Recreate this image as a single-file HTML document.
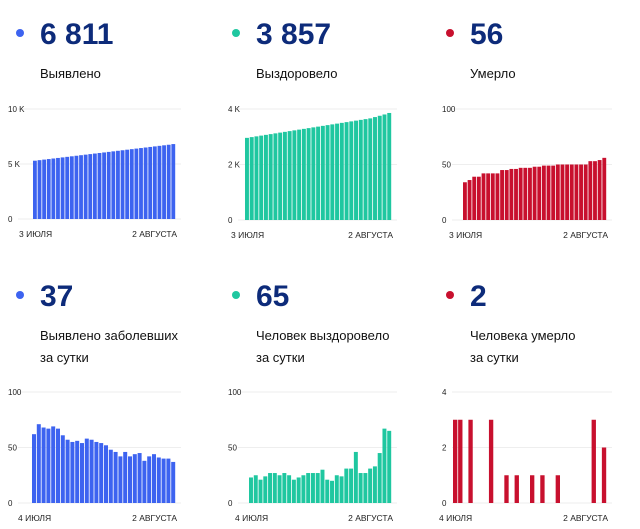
<!DOCTYPE html>
<html><head><meta charset="utf-8"><style>
body{margin:0;width:640px;height:529px;background:#fff;font-family:"Liberation Sans",sans-serif;overflow:hidden}
svg{position:absolute;left:0;top:0}
</style></head><body>
<svg id="s" width="640" height="529" xmlns="http://www.w3.org/2000/svg" font-family="Liberation Sans, sans-serif"></svg>
<script>
const s=document.getElementById('s');let h='';
const B='#3d63f0',G='#1fc7a0',R='#c8102e',N='#0d2b7a';
function head(x,y,c,num,l1,l2){
 h+=`<circle cx="${x-20}" cy="${y-11}" r="4" fill="${c}"/><text x="${x}" y="${y}" font-size="30" font-weight="bold" fill="${N}">${num}</text>`;
 h+=`<text x="${x}" y="${y+34}" font-size="13" fill="#111">${l1}</text>`;
 if(l2)h+=`<text x="${x}" y="${y+56}" font-size="13" fill="#111">${l2}</text>`;
}
function chart(lx,x0,x1,top,base,max,ticks,data,c,d1,d2){
 const n=data.length,w=(x1-x0)/n;
 ticks.forEach(([v,t])=>{const y=base-(base-top)*v/max;
  h+=`<line x1="${lx+10}" x2="${x1+5}" y1="${y}" y2="${y}" stroke="#eee" stroke-width="1"/>`;
  h+=`<text x="${lx}" y="${y+3}" font-size="8" fill="#222">${t}</text>`;});
 data.forEach((v,i)=>{const hh=(base-top)*v/max;if(hh>0)h+=`<rect x="${x0+i*w}" y="${base-hh}" width="${w-0.8}" height="${hh}" fill="${c}"/>`;});
 h+=`<text x="${x0-14}" y="${base+18}" font-size="8.5" fill="#222">${d1}</text><text x="${x1+1}" y="${base+18}" font-size="8.5" fill="#222" text-anchor="end">${d2}</text>`;
}
head(40,44,B,'6 811','Выявлено');
head(256,44,G,'3 857','Выздоровело');
head(470,44,R,'56','Умерло');
head(40,306,B,'37','Выявлено заболевших','за сутки');
head(256,306,G,'65','Человек выздоровело','за сутки');
head(470,306,R,'2','Человека умерло','за сутки');
let a=[],g=[];for(let i=0;i<31;i++){a.push(5300+i*50);g.push(2960+i*27+(i>26?(i-26)*20:0));}
a[30]=6811;g[30]=3857;
chart(8,33,176,109,219,10000,[[10000,'10 K'],[5000,'5 K'],[0,'0']],a,B,'3 ИЮЛЯ','2 АВГУСТА');
chart(228,245,392,109,220,4000,[[4000,'4 K'],[2000,'2 K'],[0,'0']],g,G,'3 ИЮЛЯ','2 АВГУСТА');
chart(442,463,607,109,220,100,[[100,'100'],[50,'50'],[0,'0']],[34,36,39,39,42,42,42,42,45,45,46,46,47,47,47,48,48,49,49,49,50,50,50,50,50,50,50,53,53,54,56],R,'3 ИЮЛЯ','2 АВГУСТА');
chart(8,32,176,392,503,100,[[100,'100'],[50,'50'],[0,'0']],[62,71,68,67,69,67,61,57,55,56,54,58,57,55,54,52,48,46,42,46,42,44,45,38,42,44,41,40,40,37],B,'4 ИЮЛЯ','2 АВГУСТА');
chart(228,249,392,392,503,100,[[100,'100'],[50,'50'],[0,'0']],[23,25,21,24,27,27,25,27,25,21,23,25,27,27,27,30,21,20,25,24,31,31,46,27,27,31,33,45,67,65],G,'4 ИЮЛЯ','2 АВГУСТА');
let r=new Array(30).fill(0);r[0]=3;r[1]=3;r[3]=3;r[7]=3;[10,12,15,17,20].forEach(i=>r[i]=1);r[27]=3;r[29]=2;
chart(442,453,607,392,503,4,[[4,'4'],[2,'2'],[0,'0']],r,R,'4 ИЮЛЯ','2 АВГУСТА');
s.innerHTML=h;
</script>
</body></html>
